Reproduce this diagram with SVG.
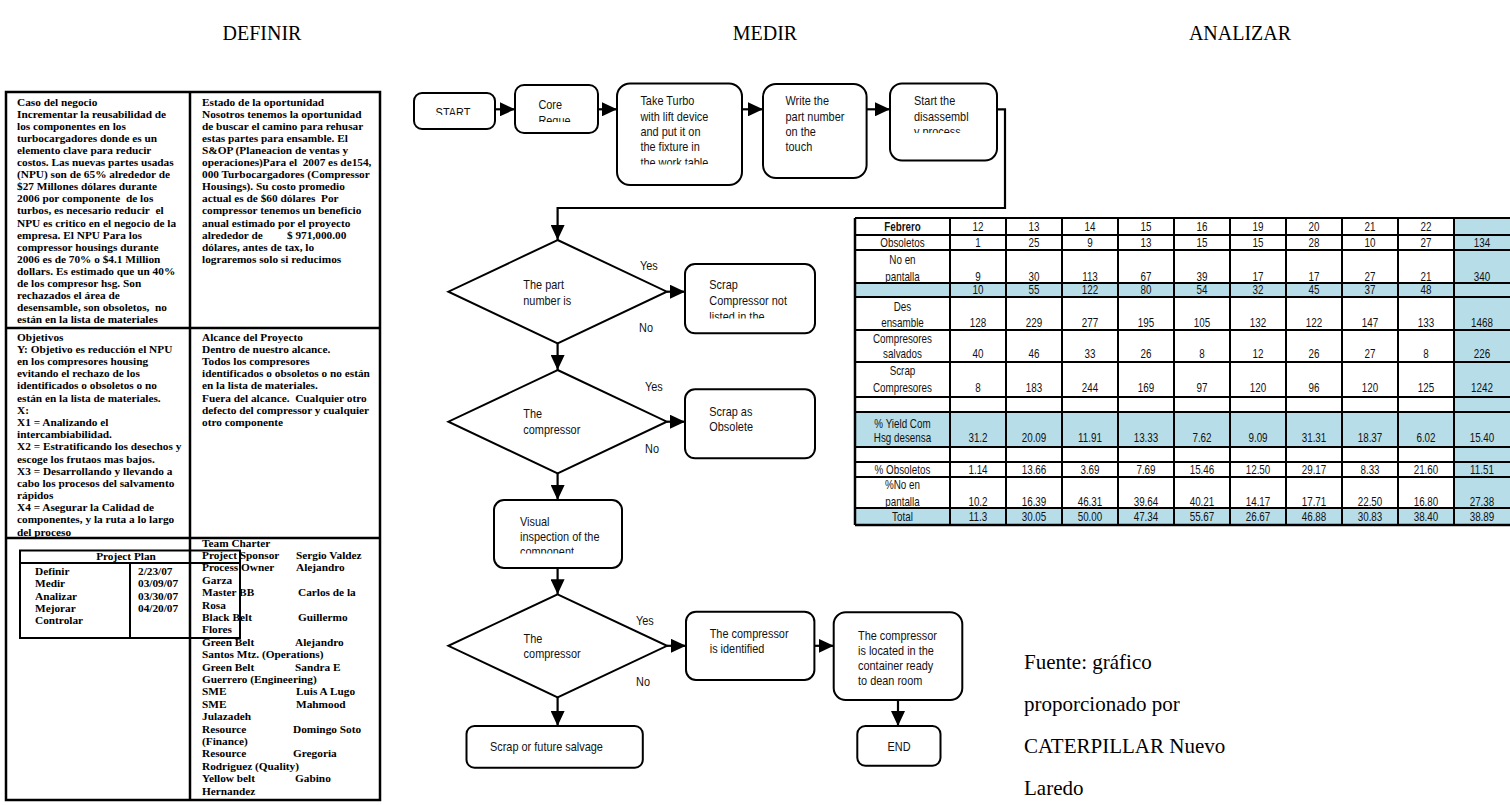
<svg xmlns="http://www.w3.org/2000/svg" width="1510" height="805" viewBox="0 0 1510 805">
<style>
.ttl{font-family:"Liberation Serif","Times New Roman",serif;font-size:20px;fill:#000}
.src{font-family:"Liberation Serif","Times New Roman",serif;font-size:21px;fill:#000}
.pt{font-family:"Liberation Serif","Times New Roman",serif;font-weight:bold;font-size:11.3px;fill:#000}
.fc{font-family:"Liberation Sans",Arial,sans-serif;font-size:13px;fill:#111}
.tb{font-family:"Liberation Sans",Arial,sans-serif;font-size:12.3px;fill:#111;text-anchor:middle}
.box{fill:#fff;stroke:#000;stroke-width:2}
.con{fill:none;stroke:#000;stroke-width:2.2}
.frame{fill:none;stroke:#000;stroke-width:2.5}
.ln{stroke:#000;stroke-width:2.5}
.thin{stroke:#000;stroke-width:2}
.blue{fill:#b7dde8}
</style>
<defs>
<marker id="ah" markerUnits="userSpaceOnUse" markerWidth="15" markerHeight="14" refX="15" refY="7" orient="auto">
<path d="M0,0 L15,7 L0,14 Z" fill="#000"/>
</marker>
<clipPath id="cStart"><rect x="414" y="93" width="81" height="22"/></clipPath>
<clipPath id="cCore"><rect x="515" y="85" width="83" height="37"/></clipPath>
<clipPath id="cTake"><rect x="617" y="83" width="125" height="81.5"/></clipPath>
<clipPath id="cStartThe"><rect x="890" y="83" width="107" height="50"/></clipPath>
<clipPath id="cScrap"><rect x="685" y="264" width="130" height="54.5"/></clipPath>
<clipPath id="cVisual"><rect x="494" y="500" width="128" height="53.5"/></clipPath>
</defs>
<rect width="1510" height="805" fill="#fff"/>

<g id="titles">
<text class="ttl" x="262" y="40" text-anchor="middle">DEFINIR</text>
<text class="ttl" x="765" y="40" text-anchor="middle">MEDIR</text>
<text class="ttl" x="1240" y="40" text-anchor="middle">ANALIZAR</text>
</g>

<g id="charter-panel">
<rect class="frame" x="6" y="92" width="374" height="708"/>
<line class="ln" x1="190" y1="92" x2="190" y2="800"/>
<line class="ln" x1="6" y1="328" x2="380" y2="328"/>
<line class="ln" x1="6" y1="538" x2="380" y2="538"/>
</g>

<g id="caso-del-negocio">
<text class="pt"><tspan x="17" y="106">Caso del negocio</tspan>
<tspan x="17" y="118.05">Incrementar la reusabilidad de</tspan>
<tspan x="17" y="130.1">los componentes en los</tspan>
<tspan x="17" y="142.15">turbocargadores donde es un</tspan>
<tspan x="17" y="154.2">elemento clave para reducir</tspan>
<tspan x="17" y="166.25">costos. Las nuevas partes usadas</tspan>
<tspan x="17" y="178.3">(NPU) son de 65% alrededor de</tspan>
<tspan x="17" y="190.35">$27 Millones dólares durante</tspan>
<tspan x="17" y="202.4">2006 por componente&#160; de los</tspan>
<tspan x="17" y="214.45">turbos, es necesario reducir&#160; el</tspan>
<tspan x="17" y="226.5">NPU es critico en el negocio de la</tspan>
<tspan x="17" y="238.55">empresa. El NPU Para los</tspan>
<tspan x="17" y="250.6">compressor housings durante</tspan>
<tspan x="17" y="262.65">2006 es de 70% o $4.1 Million</tspan>
<tspan x="17" y="274.7">dollars. Es estimado que un 40%</tspan>
<tspan x="17" y="286.75">de los compresor hsg. Son</tspan>
<tspan x="17" y="298.8">rechazados el área de</tspan>
<tspan x="17" y="310.85">desensamble, son obsoletos,&#160; no</tspan>
<tspan x="17" y="322.9">están en la lista de materiales</tspan></text>
</g>

<g id="estado-oportunidad">
<text class="pt"><tspan x="202" y="106">Estado de la oportunidad</tspan>
<tspan x="202" y="118.05">Nosotros tenemos la oportunidad</tspan>
<tspan x="202" y="130.1">de buscar el camino para rehusar</tspan>
<tspan x="202" y="142.15">estas partes para ensamble. El</tspan>
<tspan x="202" y="154.2">S&amp;OP (Planeacion de ventas y</tspan>
<tspan x="202" y="166.25">operaciones)Para el&#160; 2007 es de154,</tspan>
<tspan x="202" y="178.3">000 Turbocargadores (Compressor</tspan>
<tspan x="202" y="190.35">Housings). Su costo promedio</tspan>
<tspan x="202" y="202.4">actual es de $60 dólares&#160; Por</tspan>
<tspan x="202" y="214.45">compressor tenemos un beneficio</tspan>
<tspan x="202" y="226.5">anual estimado por el proyecto</tspan>
<tspan x="202" y="238.55">alrededor de</tspan><tspan x="287" y="238.55">$ 971,000.00</tspan>
<tspan x="202" y="250.6">dólares, antes de tax, lo</tspan>
<tspan x="202" y="262.65">lograremos solo si reducimos</tspan></text>
</g>

<g id="objetivos">
<text class="pt"><tspan x="17" y="340.8">Objetivos</tspan>
<tspan x="17" y="352.97">Y: Objetivo es reducción el NPU</tspan>
<tspan x="17" y="365.14">en los compresores housing</tspan>
<tspan x="17" y="377.31">evitando el rechazo de los</tspan>
<tspan x="17" y="389.48">identificados o obsoletos o no</tspan>
<tspan x="17" y="401.65">están en la lista de materiales.</tspan>
<tspan x="17" y="413.82">X:</tspan>
<tspan x="17" y="425.99">X1 = Analizando el</tspan>
<tspan x="17" y="438.16">intercambiabilidad.</tspan>
<tspan x="17" y="450.33">X2 = Estratificando los desechos y</tspan>
<tspan x="17" y="462.5">escoge los frutaos mas bajos.</tspan>
<tspan x="17" y="474.67">X3 = Desarrollando y llevando a</tspan>
<tspan x="17" y="486.84">cabo los procesos del salvamento</tspan>
<tspan x="17" y="499.01">rápidos</tspan>
<tspan x="17" y="511.18">X4 = Asegurar la Calidad de</tspan>
<tspan x="17" y="523.35">componentes, y la ruta a lo largo</tspan>
<tspan x="17" y="535.52">del proceso</tspan></text>
</g>

<g id="alcance">
<text class="pt"><tspan x="202" y="340.8">Alcance del Proyecto</tspan>
<tspan x="202" y="352.97">Dentro de nuestro alcance.</tspan>
<tspan x="202" y="365.14">Todos los compresores</tspan>
<tspan x="202" y="377.31">identificados o obsoletos o no están</tspan>
<tspan x="202" y="389.48">en la lista de materiales.</tspan>
<tspan x="202" y="401.65">Fuera del alcance.&#160; Cualquier otro</tspan>
<tspan x="202" y="413.82">defecto del compressor y cualquier</tspan>
<tspan x="202" y="425.99">otro componente</tspan></text>
</g>

<g id="project-plan">
<rect x="20" y="550.5" width="220" height="87.5" fill="none" stroke="#000" stroke-width="2"/>
<line class="thin" x1="20" y1="563" x2="240" y2="563"/>
<line class="thin" x1="130" y1="563" x2="130" y2="638"/>
<text class="pt" x="126" y="560" text-anchor="middle">Project Plan</text>
<text class="pt"><tspan x="35" y="574.7">Definir</tspan><tspan x="138" y="574.7">2/23/07</tspan>
<tspan x="35" y="587.1">Medir</tspan><tspan x="138" y="587.1">03/09/07</tspan>
<tspan x="35" y="599.5">Analizar</tspan><tspan x="138" y="599.5">03/30/07</tspan>
<tspan x="35" y="611.9">Mejorar</tspan><tspan x="138" y="611.9">04/20/07</tspan>
<tspan x="35" y="624.3">Controlar</tspan></text>
</g>

<g id="team-charter">
<text class="pt"><tspan x="202" y="546.5">Team Charter</tspan>
<tspan x="202" y="558.9">Project Sponsor</tspan><tspan x="296" y="558.9">Sergio Valdez</tspan>
<tspan x="202" y="571.3">Process Owner</tspan><tspan x="296" y="571.3">Alejandro</tspan>
<tspan x="202" y="583.7">Garza</tspan>
<tspan x="202" y="596.1">Master BB</tspan><tspan x="298" y="596.1">Carlos de la</tspan>
<tspan x="202" y="608.5">Rosa</tspan>
<tspan x="202" y="620.9">Black Belt</tspan><tspan x="298" y="620.9">Guillermo</tspan>
<tspan x="202" y="633.3">Flores</tspan>
<tspan x="202" y="645.7">Green Belt</tspan><tspan x="295" y="645.7">Alejandro</tspan>
<tspan x="202" y="658.1">Santos Mtz. (Operations)</tspan>
<tspan x="202" y="670.5">Green Belt</tspan><tspan x="295" y="670.5">Sandra E</tspan>
<tspan x="202" y="682.9">Guerrero (Engineering)</tspan>
<tspan x="202" y="695.3">SME</tspan><tspan x="296" y="695.3">Luis A Lugo</tspan>
<tspan x="202" y="707.7">SME</tspan><tspan x="296" y="707.7">Mahmood</tspan>
<tspan x="202" y="720.1">Julazadeh</tspan>
<tspan x="202" y="732.5">Resource</tspan><tspan x="293" y="732.5">Domingo Soto</tspan>
<tspan x="202" y="744.9">(Finance)</tspan>
<tspan x="202" y="757.3">Resource</tspan><tspan x="293" y="757.3">Gregoria</tspan>
<tspan x="202" y="769.7">Rodriguez (Quality)</tspan>
<tspan x="202" y="782.1">Yellow belt</tspan><tspan x="295" y="782.1">Gabino</tspan>
<tspan x="202" y="794.5">Hernandez</tspan></text>
</g>

<g id="connectors">
<line class="con" x1="495" y1="109.3" x2="515" y2="109.3" marker-end="url(#ah)"/>
<line class="con" x1="598" y1="109.3" x2="617" y2="109.3" marker-end="url(#ah)"/>
<line class="con" x1="742" y1="109.3" x2="763" y2="109.3" marker-end="url(#ah)"/>
<line class="con" x1="866.6" y1="109.3" x2="890" y2="109.3" marker-end="url(#ah)"/>
<path class="con" d="M997,109.3 H1005 V208 H557.6 V240" marker-end="url(#ah)"/>
<line class="con" x1="666.8" y1="291.7" x2="685" y2="291.7" marker-end="url(#ah)"/>
<line class="con" x1="557.6" y1="343.4" x2="557.6" y2="370" marker-end="url(#ah)"/>
<line class="con" x1="666.8" y1="421.7" x2="685" y2="421.7" marker-end="url(#ah)"/>
<line class="con" x1="557.6" y1="473.4" x2="557.6" y2="500" marker-end="url(#ah)"/>
<line class="con" x1="557.6" y1="568" x2="557.6" y2="594.3" marker-end="url(#ah)"/>
<line class="con" x1="667" y1="645.8" x2="686" y2="645.8" marker-end="url(#ah)"/>
<line class="con" x1="814.4" y1="645.8" x2="833.7" y2="645.8" marker-end="url(#ah)"/>
<line class="con" x1="898" y1="700" x2="898" y2="726" marker-end="url(#ah)"/>
<line class="con" x1="557.6" y1="697.3" x2="557.6" y2="726" marker-end="url(#ah)"/>
</g>

<g id="n-start">
<rect class="box" x="414" y="93" width="81" height="36" rx="8"/>
<g clip-path="url(#cStart)"><text class="fc" text-anchor="middle" transform="translate(453,116.6) scale(0.84,1)">START</text></g>
</g>
<g id="n-core">
<rect class="box" x="515" y="85" width="83" height="48" rx="9"/>
<g clip-path="url(#cCore)"><text class="fc" transform="translate(538.4,0) scale(0.84,1)"><tspan x="0" y="109.5">Core</tspan><tspan x="0" y="124.8">Reque</tspan></text></g>
</g>
<g id="n-take">
<rect class="box" x="617" y="83.5" width="125" height="101.5" rx="13"/>
<g clip-path="url(#cTake)"><text class="fc" transform="translate(640.4,0) scale(0.84,1)"><tspan x="0" y="105.5">Take Turbo</tspan><tspan x="0" y="120.8">with lift device</tspan><tspan x="0" y="136.1">and put it on</tspan><tspan x="0" y="151.4">the fixture in</tspan><tspan x="0" y="166.7">the work table</tspan></text></g>
</g>
<g id="n-write">
<rect class="box" x="763" y="84" width="103.6" height="94" rx="13"/>
<text class="fc" transform="translate(785.5,0) scale(0.84,1)"><tspan x="0" y="105.5">Write the</tspan><tspan x="0" y="120.8">part number</tspan><tspan x="0" y="136.1">on the</tspan><tspan x="0" y="151.4">touch</tspan></text>
</g>
<g id="n-disassembly">
<rect class="box" x="890" y="83.5" width="107" height="77" rx="12"/>
<g clip-path="url(#cStartThe)"><text class="fc" transform="translate(914,0) scale(0.84,1)"><tspan x="0" y="105.5">Start the</tspan><tspan x="0" y="120.8">disassembl</tspan><tspan x="0" y="136.1">y process</tspan></text></g>
</g>

<g id="d-part-number">
<polygon class="box" points="557.6,240 666.8,291.7 557.6,343.4 448.4,291.7"/>
<text class="fc" transform="translate(523.3,0) scale(0.84,1)"><tspan x="0" y="289.5">The part</tspan><tspan x="0" y="305.5">number is</tspan></text>
<text class="fc" transform="translate(640,269.5) scale(0.84,1)">Yes</text>
<text class="fc" transform="translate(639,332) scale(0.84,1)">No</text>
</g>
<g id="n-scrap-not-listed">
<rect class="box" x="685" y="264" width="130" height="69.3" rx="10"/>
<g clip-path="url(#cScrap)"><text class="fc" transform="translate(709.3,0) scale(0.84,1)"><tspan x="0" y="289.5">Scrap</tspan><tspan x="0" y="305.5">Compressor not</tspan><tspan x="0" y="321">listed in the</tspan></text></g>
</g>
<g id="d-compressor-1">
<polygon class="box" points="557.6,370 666.8,421.7 557.6,473.4 448.4,421.7"/>
<text class="fc" transform="translate(523.3,0) scale(0.84,1)"><tspan x="0" y="418.5">The</tspan><tspan x="0" y="434.5">compressor</tspan></text>
<text class="fc" transform="translate(645,391) scale(0.84,1)">Yes</text>
<text class="fc" transform="translate(645,453) scale(0.84,1)">No</text>
</g>
<g id="n-obsolete">
<rect class="box" x="685" y="389.3" width="130" height="69" rx="10"/>
<text class="fc" transform="translate(709.3,0) scale(0.84,1)"><tspan x="0" y="416.2">Scrap as</tspan><tspan x="0" y="431.2">Obsolete</tspan></text>
</g>
<g id="n-visual">
<rect class="box" x="494" y="500" width="128" height="68" rx="10"/>
<g clip-path="url(#cVisual)"><text class="fc" transform="translate(520,0) scale(0.84,1)"><tspan x="0" y="526.2">Visual</tspan><tspan x="0" y="541.2">inspection of the</tspan><tspan x="0" y="556.2">component</tspan></text></g>
</g>
<g id="d-compressor-2">
<polygon class="box" points="557.6,594.3 667,645.8 557.6,697.3 448.4,645.8"/>
<text class="fc" transform="translate(523.6,0) scale(0.84,1)"><tspan x="0" y="642.8">The</tspan><tspan x="0" y="658.5">compressor</tspan></text>
<text class="fc" transform="translate(636,624.5) scale(0.84,1)">Yes</text>
<text class="fc" transform="translate(636,686) scale(0.84,1)">No</text>
</g>
<g id="n-identified">
<rect class="box" x="686" y="611.7" width="128.4" height="68.3" rx="10"/>
<text class="fc" transform="translate(709.7,0) scale(0.84,1)"><tspan x="0" y="637.8">The compressor</tspan><tspan x="0" y="652.8">is identified</tspan></text>
</g>
<g id="n-located">
<rect class="box" x="833.7" y="612.3" width="128.6" height="87.7" rx="12"/>
<text class="fc" transform="translate(858,0) scale(0.84,1)"><tspan x="0" y="640.5">The compressor</tspan><tspan x="0" y="655.5">is located in the</tspan><tspan x="0" y="670.5">container ready</tspan><tspan x="0" y="685.5">to dean room</tspan></text>
</g>
<g id="n-end">
<rect class="box" x="857.3" y="726" width="83.2" height="39.7" rx="8"/>
<text class="fc" text-anchor="middle" transform="translate(899,751) scale(0.84,1)">END</text>
</g>
<g id="n-scrap-future">
<rect class="box" x="466.5" y="726" width="176.3" height="41.7" rx="8"/>
<text class="fc" transform="translate(490,751) scale(0.84,1)">Scrap or future salvage</text>
</g>

<g id="data-table">
<rect class="blue" x="855" y="283" width="655" height="14"/>
<rect class="blue" x="855" y="412" width="655" height="35"/>
<rect class="blue" x="855" y="508" width="655" height="17"/>
<rect class="blue" x="1454" y="218" width="56" height="307"/>
<g class="thin">
<line x1="855" y1="218" x2="1510" y2="218"/>
<line x1="855" y1="235" x2="1510" y2="235"/>
<line x1="855" y1="250" x2="1510" y2="250"/>
<line x1="855" y1="283" x2="1510" y2="283"/>
<line x1="855" y1="297" x2="1510" y2="297"/>
<line x1="855" y1="330" x2="1510" y2="330"/>
<line x1="855" y1="362" x2="1510" y2="362"/>
<line x1="855" y1="397" x2="1510" y2="397"/>
<line x1="855" y1="412" x2="1510" y2="412"/>
<line x1="855" y1="447" x2="1510" y2="447"/>
<line x1="855" y1="462" x2="1510" y2="462"/>
<line x1="855" y1="477" x2="1510" y2="477"/>
<line x1="855" y1="508" x2="1510" y2="508"/>
<line x1="855" y1="525" x2="1510" y2="525" stroke-width="2.5"/>
<line x1="855" y1="218" x2="855" y2="525" stroke-width="2.5"/>
<line x1="950" y1="218" x2="950" y2="525"/>
<line x1="1006" y1="218" x2="1006" y2="525"/>
<line x1="1062" y1="218" x2="1062" y2="525"/>
<line x1="1118" y1="218" x2="1118" y2="525"/>
<line x1="1174" y1="218" x2="1174" y2="525"/>
<line x1="1230" y1="218" x2="1230" y2="525"/>
<line x1="1286" y1="218" x2="1286" y2="525"/>
<line x1="1342" y1="218" x2="1342" y2="525"/>
<line x1="1398" y1="218" x2="1398" y2="525"/>
<line x1="1454" y1="218" x2="1454" y2="525"/>
</g>
<g class="tb" transform="scale(0.8,1)">
<text y="231"><tspan x="1128.1" font-weight="bold">Febrero</tspan><tspan x="1222.5">12</tspan><tspan x="1292.5">13</tspan><tspan x="1362.5">14</tspan><tspan x="1432.5">15</tspan><tspan x="1502.5">16</tspan><tspan x="1572.5">19</tspan><tspan x="1642.5">20</tspan><tspan x="1712.5">21</tspan><tspan x="1782.5">22</tspan></text>
<text y="247.5"><tspan x="1128.1">Obsoletos</tspan><tspan x="1222.5">1</tspan><tspan x="1292.5">25</tspan><tspan x="1362.5">9</tspan><tspan x="1432.5">13</tspan><tspan x="1502.5">15</tspan><tspan x="1572.5">15</tspan><tspan x="1642.5">28</tspan><tspan x="1712.5">10</tspan><tspan x="1782.5">27</tspan><tspan x="1852.5">134</tspan></text>
<text x="1128.1" y="264.5">No en</text>
<text y="281"><tspan x="1128.1">pantalla</tspan><tspan x="1222.5">9</tspan><tspan x="1292.5">30</tspan><tspan x="1362.5">113</tspan><tspan x="1432.5">67</tspan><tspan x="1502.5">39</tspan><tspan x="1572.5">17</tspan><tspan x="1642.5">17</tspan><tspan x="1712.5">27</tspan><tspan x="1782.5">21</tspan><tspan x="1852.5">340</tspan></text>
<text y="294.5"><tspan x="1222.5">10</tspan><tspan x="1292.5">55</tspan><tspan x="1362.5">122</tspan><tspan x="1432.5">80</tspan><tspan x="1502.5">54</tspan><tspan x="1572.5">32</tspan><tspan x="1642.5">45</tspan><tspan x="1712.5">37</tspan><tspan x="1782.5">48</tspan></text>
<text x="1128.1" y="311">Des</text>
<text y="327"><tspan x="1128.1">ensamble</tspan><tspan x="1222.5">128</tspan><tspan x="1292.5">229</tspan><tspan x="1362.5">277</tspan><tspan x="1432.5">195</tspan><tspan x="1502.5">105</tspan><tspan x="1572.5">132</tspan><tspan x="1642.5">122</tspan><tspan x="1712.5">147</tspan><tspan x="1782.5">133</tspan><tspan x="1852.5">1468</tspan></text>
<text x="1128.1" y="343">Compresores</text>
<text y="358.5"><tspan x="1128.1">salvados</tspan><tspan x="1222.5">40</tspan><tspan x="1292.5">46</tspan><tspan x="1362.5">33</tspan><tspan x="1432.5">26</tspan><tspan x="1502.5">8</tspan><tspan x="1572.5">12</tspan><tspan x="1642.5">26</tspan><tspan x="1712.5">27</tspan><tspan x="1782.5">8</tspan><tspan x="1852.5">226</tspan></text>
<text x="1128.1" y="375.5">Scrap</text>
<text y="392.5"><tspan x="1128.1">Compresores</tspan><tspan x="1222.5">8</tspan><tspan x="1292.5">183</tspan><tspan x="1362.5">244</tspan><tspan x="1432.5">169</tspan><tspan x="1502.5">97</tspan><tspan x="1572.5">120</tspan><tspan x="1642.5">96</tspan><tspan x="1712.5">120</tspan><tspan x="1782.5">125</tspan><tspan x="1852.5">1242</tspan></text>
<text x="1128.1" y="428">% Yield Com</text>
<text y="442"><tspan x="1128.1">Hsg desensa</tspan><tspan x="1222.5">31.2</tspan><tspan x="1292.5">20.09</tspan><tspan x="1362.5">11.91</tspan><tspan x="1432.5">13.33</tspan><tspan x="1502.5">7.62</tspan><tspan x="1572.5">9.09</tspan><tspan x="1642.5">31.31</tspan><tspan x="1712.5">18.37</tspan><tspan x="1782.5">6.02</tspan><tspan x="1852.5">15.40</tspan></text>
<text y="474.5"><tspan x="1128.1">% Obsoletos</tspan><tspan x="1222.5">1.14</tspan><tspan x="1292.5">13.66</tspan><tspan x="1362.5">3.69</tspan><tspan x="1432.5">7.69</tspan><tspan x="1502.5">15.46</tspan><tspan x="1572.5">12.50</tspan><tspan x="1642.5">29.17</tspan><tspan x="1712.5">8.33</tspan><tspan x="1782.5">21.60</tspan><tspan x="1852.5">11.51</tspan></text>
<text x="1128.1" y="489.5">%No en</text>
<text y="506"><tspan x="1128.1">pantalla</tspan><tspan x="1222.5">10.2</tspan><tspan x="1292.5">16.39</tspan><tspan x="1362.5">46.31</tspan><tspan x="1432.5">39.64</tspan><tspan x="1502.5">40.21</tspan><tspan x="1572.5">14.17</tspan><tspan x="1642.5">17.71</tspan><tspan x="1712.5">22.50</tspan><tspan x="1782.5">16.80</tspan><tspan x="1852.5">27.38</tspan></text>
<text y="521"><tspan x="1128.1">Total</tspan><tspan x="1222.5">11.3</tspan><tspan x="1292.5">30.05</tspan><tspan x="1362.5">50.00</tspan><tspan x="1432.5">47.34</tspan><tspan x="1502.5">55.67</tspan><tspan x="1572.5">26.67</tspan><tspan x="1642.5">46.88</tspan><tspan x="1712.5">30.83</tspan><tspan x="1782.5">38.40</tspan><tspan x="1852.5">38.89</tspan></text>
</g>
</g>

<g id="source-note">
<text class="src"><tspan x="1024" y="669">Fuente: gráfico</tspan>
<tspan x="1024" y="711">proporcionado por</tspan>
<tspan x="1024" y="753">CATERPILLAR Nuevo</tspan>
<tspan x="1024" y="795">Laredo</tspan></text>
</g>
</svg>
